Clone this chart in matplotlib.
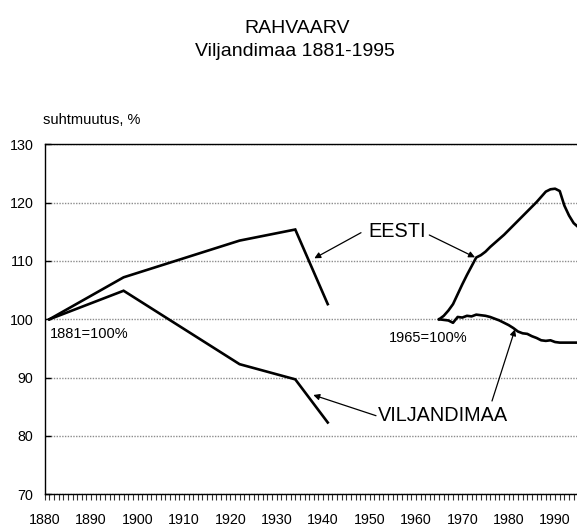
import matplotlib
matplotlib.use("Agg")
import matplotlib.pyplot as plt
from matplotlib.ticker import MultipleLocator, FixedLocator
import numpy as np

plt.rcParams['font.family'] = ['Liberation Sans', 'DejaVu Sans']

# ---- data ----
est_years_1 = [1881, 1897, 1922, 1934, 1941]
est_vals_1 = [100.0, 107.2, 113.5, 115.4, 102.6]
vil_years_1 = [1881, 1897, 1922, 1934, 1941]
vil_vals_1 = [100.0, 104.9, 92.3, 89.7, 82.3]

years_2 = list(range(1965, 1996))
est_vals_2 = [100.0, 100.6, 101.5, 102.6, 104.3, 106.0, 107.6, 109.1, 110.6, 111.0,
              111.6, 112.4, 113.1, 113.8, 114.5, 115.3, 116.1, 116.9, 117.7, 118.5,
              119.3, 120.1, 121.0, 121.9, 122.3, 122.4, 122.0, 119.5, 117.8, 116.5, 115.8]
vil_vals_2 = [100.0, 99.9, 99.8, 99.4, 100.4, 100.3, 100.6, 100.5, 100.8, 100.7,
              100.6, 100.4, 100.1, 99.8, 99.4, 99.0, 98.5, 97.9, 97.6, 97.5,
              97.1, 96.8, 96.4, 96.3, 96.4, 96.1, 96.0, 96.0, 96.0, 96.0, 96.0]

x_ticks = [1880, 1890, 1900, 1910, 1920, 1930, 1940, 1950, 1960, 1970, 1980, 1990]
y_ticks = [70, 80, 90, 100, 110, 120, 130]

title = "RAHVAARV"
subtitle = "Viljandimaa 1881-1995"

# ---- figure ----
W, H = 577, 528
fig = plt.figure(figsize=(W / 100, H / 100), dpi=100)
x0 = 1880.0
x1 = 1995.5
px_per_yr = 4.64
ax_left = 44.7
ax_w = (x1 - x0) * px_per_yr
ax_bottom_px = 494.2
ax_top_px = 144.4
ax = fig.add_axes([ax_left / W, (H - ax_bottom_px) / H, ax_w / W, (ax_bottom_px - ax_top_px) / H])
ax.set_xlim(x0, x1)
ax.set_ylim(70, 130)

lw = 1.9
ax.plot(est_years_1, est_vals_1, color='black', lw=lw, solid_joinstyle='miter', zorder=3)
ax.plot(vil_years_1, vil_vals_1, color='black', lw=lw, solid_joinstyle='miter', zorder=3)
ax.plot(years_2, est_vals_2, color='black', lw=lw, zorder=3)
ax.plot(years_2, vil_vals_2, color='black', lw=lw, zorder=3)

# grid
ax.yaxis.set_major_locator(FixedLocator(y_ticks))
ax.grid(axis='y', color='#8c8c8c', linestyle=(0, (1, 1)), linewidth=1.0, zorder=1)
ax.set_axisbelow(True)

ax.xaxis.set_major_locator(FixedLocator(x_ticks))
ax.xaxis.set_minor_locator(MultipleLocator(1))
ax.tick_params(axis='x', which='both', direction='out', length=4.5, width=0.8, color='#333333',
               labelsize=10.3, pad=9)
ax.tick_params(axis='y', which='major', direction='in', length=4, width=1.0, color='black',
               labelsize=10.3, pad=8)

for s in ['left', 'top', 'bottom']:
    ax.spines[s].set_linewidth(1.0)
    ax.spines[s].set_color('black')
ax.spines['right'].set_visible(False)

# texts
fig.text(297 / W, 1 - 33 / H, title, ha='center', va='baseline', fontsize=14)
fig.text(295 / W, 1 - 56.5 / H, subtitle, ha='center', va='baseline', fontsize=14)
fig.text(43.3 / W, 1 - 124.5 / H, "suhtmuutus, %", ha='left', va='baseline', fontsize=10.5)

def d2(xp, yp):
    return (1880 + (xp - ax_left) / px_per_yr, 100 - (yp - 319.3) / 5.83)

ax.annotate("1881=100%", xy=d2(50, 338.3), ha='left', va='baseline', fontsize=10.5)
ax.annotate("1965=100%", xy=d2(389.3, 341.5), ha='left', va='baseline', fontsize=10.5)
ax.annotate("EESTI", xy=d2(368.3, 237.3), ha='left', va='baseline', fontsize=14.3)
ax.annotate("VILJANDIMAA", xy=d2(378.3, 420.7), ha='left', va='baseline', fontsize=14.3)

arrowprops = dict(arrowstyle='-|>', color='black', lw=0.9, mutation_scale=9, shrinkA=0, shrinkB=0)
ax.annotate("", xy=d2(314.3, 258.3), xytext=d2(361, 232.7), arrowprops=arrowprops)
ax.annotate("", xy=d2(475, 257.3), xytext=d2(429.3, 235), arrowprops=arrowprops)
ax.annotate("", xy=d2(313.3, 395), xytext=d2(376, 415.7), arrowprops=arrowprops)
ax.annotate("", xy=d2(515, 329.3), xytext=d2(492, 401), arrowprops=arrowprops)

fig.savefig("out.png", dpi=100)
